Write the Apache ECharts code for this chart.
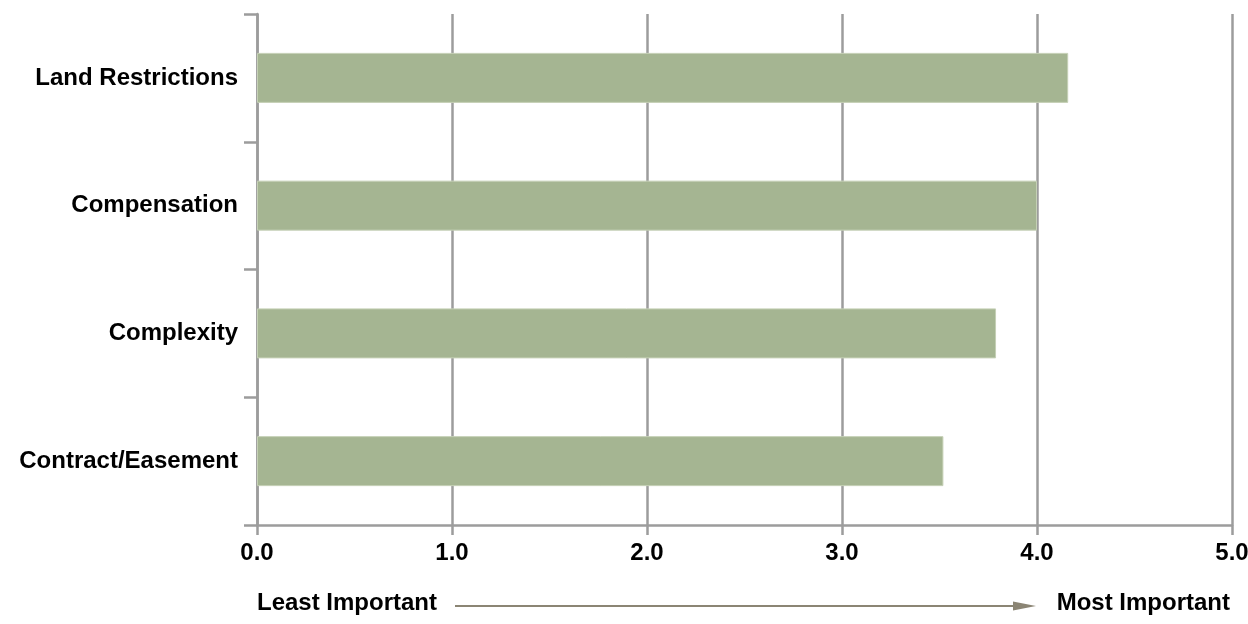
<!DOCTYPE html>
<html>
<head>
<meta charset="utf-8">
<title>Importance ratings</title>
<script src="https://cdn.jsdelivr.net/npm/echarts@6/dist/echarts.min.js"></script>
<style>
  html, body { margin: 0; padding: 0; background: #fff; }
  #chart { width: 1248px; height: 624px; }
</style>
</head>
<body>
<div id="chart"></div>
<script>
// Factors, listed top to bottom
const categories = ['Land Restrictions', 'Compensation', 'Complexity', 'Contract/Easement'];
// Mean importance rating per factor (0 = least, 5 = most)
const ratings = [4.16, 4.0, 3.79, 3.52];
// Scale end labels
const lowLabel = 'Least Important';
const highLabel = 'Most Important';

const FONT = '"Liberation Sans", Arial, sans-serif';
const AXIS_GREY = '#9c9c9c';
const ARROW = '#8b8574';

const chart = echarts.init(document.getElementById('chart'), null, { renderer: 'canvas' });

chart.setOption({
  animation: false,
  backgroundColor: '#ffffff',
  grid: { left: 257, right: 16, top: 14, bottom: 99, containLabel: false, outerBoundsMode: 'none' },
  xAxis: {
    type: 'value',
    min: 0,
    max: 5,
    interval: 1,
    axisLine: { show: true, lineStyle: { color: AXIS_GREY, width: 2.5 } },
    axisTick: { show: true, length: 10, lineStyle: { color: AXIS_GREY, width: 2.5 } },
    splitLine: { show: true, lineStyle: { color: AXIS_GREY, width: 2.5 } },
    axisLabel: {
      margin: 16,
      color: '#000',
      fontFamily: FONT,
      fontWeight: 'bold',
      fontSize: 24,
      hideOverlap: false,
      formatter: v => v.toFixed(1)
    }
  },
  yAxis: {
    type: 'category',
    data: categories,
    inverse: true,
    axisLine: { show: true, lineStyle: { color: AXIS_GREY, width: 2.5 } },
    axisTick: { show: true, length: 13, lineStyle: { color: AXIS_GREY, width: 2.5 } },
    axisLabel: {
      margin: 19,
      color: '#000',
      fontFamily: FONT,
      fontWeight: 'bold',
      fontSize: 24
    }
  },
  series: [{
    type: 'bar',
    data: ratings,
    barWidth: 50,
    itemStyle: { color: '#a5b592', borderColor: '#c5d0b6', borderWidth: 1 },
    z: 3
  }],
  graphic: [
    {
      type: 'text',
      x: 257,
      y: 603,
      style: { text: lowLabel, fill: '#000', font: 'bold 24px ' + FONT, textAlign: 'left', textVerticalAlign: 'middle' }
    },
    {
      type: 'text',
      x: 1230,
      y: 603,
      style: { text: highLabel, fill: '#000', font: 'bold 24px ' + FONT, textAlign: 'right', textVerticalAlign: 'middle' }
    },
    {
      type: 'line',
      shape: { x1: 455, y1: 606, x2: 1018, y2: 606 },
      style: { stroke: ARROW, lineWidth: 2 }
    },
    {
      type: 'polygon',
      shape: { points: [[1013, 601.5], [1036, 606], [1013, 610.5]] },
      style: { fill: ARROW }
    }
  ]
});
</script>
</body>
</html>
